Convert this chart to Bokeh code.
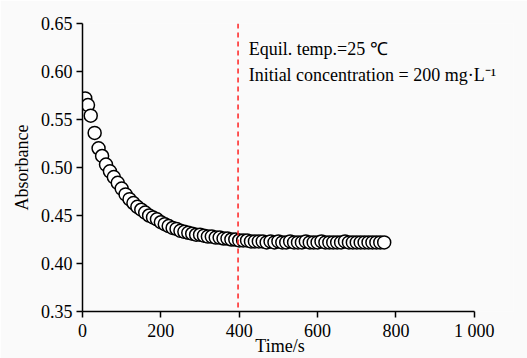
from bokeh.plotting import figure
from bokeh.models import Range1d, FixedTicker, Label, Span, ColumnDataSource, PrintfTickFormatter
from bokeh.embed import file_html
from bokeh.resources import INLINE

# Data
time_s = [7, 14, 21, 31, 41] + list(range(50, 780, 10))
absorbance = [
    0.572, 0.565, 0.554, 0.536, 0.520,
    0.512, 0.503, 0.496, 0.490, 0.484, 0.478, 0.472, 0.467, 0.463, 0.459,
    0.456, 0.453, 0.450, 0.448, 0.446, 0.443, 0.441, 0.439, 0.437, 0.436,
    0.434, 0.433, 0.432, 0.431, 0.430, 0.430, 0.429, 0.428, 0.428, 0.427,
    0.427, 0.426, 0.426, 0.425, 0.425, 0.424, 0.424, 0.424, 0.423, 0.423,
    0.423, 0.423, 0.422, 0.423, 0.422, 0.423, 0.422, 0.422, 0.423, 0.422,
    0.422, 0.422, 0.423, 0.422, 0.422, 0.422, 0.423, 0.422, 0.422, 0.422,
    0.422, 0.422, 0.423, 0.422, 0.422, 0.422, 0.422, 0.422, 0.422, 0.422,
    0.422, 0.422, 0.422,
]
time_s = time_s[:len(absorbance)]
x_ticks = [0, 200, 400, 600, 800, 1000]
y_ticks = [0.35, 0.40, 0.45, 0.50, 0.55, 0.60, 0.65]
marker_time = 397
x_title = "Time/s"
y_title = "Absorbance"
note_lines = ["Equil. temp.=25 \u2103", "Initial concentration = 200 mg\u00b7L\u207b\u00b9"]

FONT = "Liberation Serif"
BG = "#fafafa"
FS = "18px"

p = figure(width=527, height=358, output_backend="svg", toolbar_location=None,
           x_range=Range1d(0, 1100), y_range=Range1d(0.35, 0.65),
           min_border_left=82, min_border_right=14, min_border_top=23, min_border_bottom=0)
p.background_fill_color = BG
p.border_fill_color = BG
p.outline_line_color = None
p.grid.visible = False

for ax in (p.xaxis[0], p.yaxis[0]):
    ax.axis_line_width = 1.5
    ax.axis_line_color = "black"
    ax.major_tick_line_width = 1.5
    ax.major_tick_line_color = "black"
    ax.major_tick_out = 6
    ax.major_tick_in = 0
    ax.minor_tick_line_color = None
    ax.major_label_text_font = FONT
    ax.major_label_text_font_size = FS
    ax.major_label_text_color = "black"
    ax.axis_label_text_font = FONT
    ax.axis_label_text_font_size = FS
    ax.axis_label_text_font_style = "normal"
    ax.axis_label_text_color = "black"

p.xaxis.ticker = FixedTicker(ticks=x_ticks)
p.xaxis.bounds = (0, 1000)
p.xaxis.major_label_overrides = {1000: "1 000"}
p.xaxis.major_label_standoff = 3
# padded with no-break spaces so the title centres under the 0-1000 axis span
p.xaxis.axis_label = x_title + "\u00a0" * 8
p.xaxis.axis_label_standoff = -8

p.yaxis.ticker = FixedTicker(ticks=y_ticks)
p.yaxis.formatter = PrintfTickFormatter(format="%.2f")
p.yaxis.axis_label = y_title
p.yaxis.axis_label_standoff = 6
p.yaxis.major_label_standoff = 4

p.add_layout(Span(location=marker_time, dimension="height", line_color="#ff2020",
                  line_dash="5 4", line_width=1.5))

src = ColumnDataSource(dict(t=time_s, a=absorbance))
p.scatter("t", "a", source=src, size=13, fill_color="white", line_color="black", line_width=1.5)

p.add_layout(Label(x=424, y=0.623, text=note_lines[0], text_font=FONT, text_font_size=FS,
                   text_color="black", text_baseline="alphabetic"))
p.add_layout(Label(x=424, y=0.5963, text=note_lines[1], text_font=FONT, text_font_size=FS,
                   text_color="black", text_baseline="alphabetic"))

open("out.html", "w").write(file_html(p, INLINE))
